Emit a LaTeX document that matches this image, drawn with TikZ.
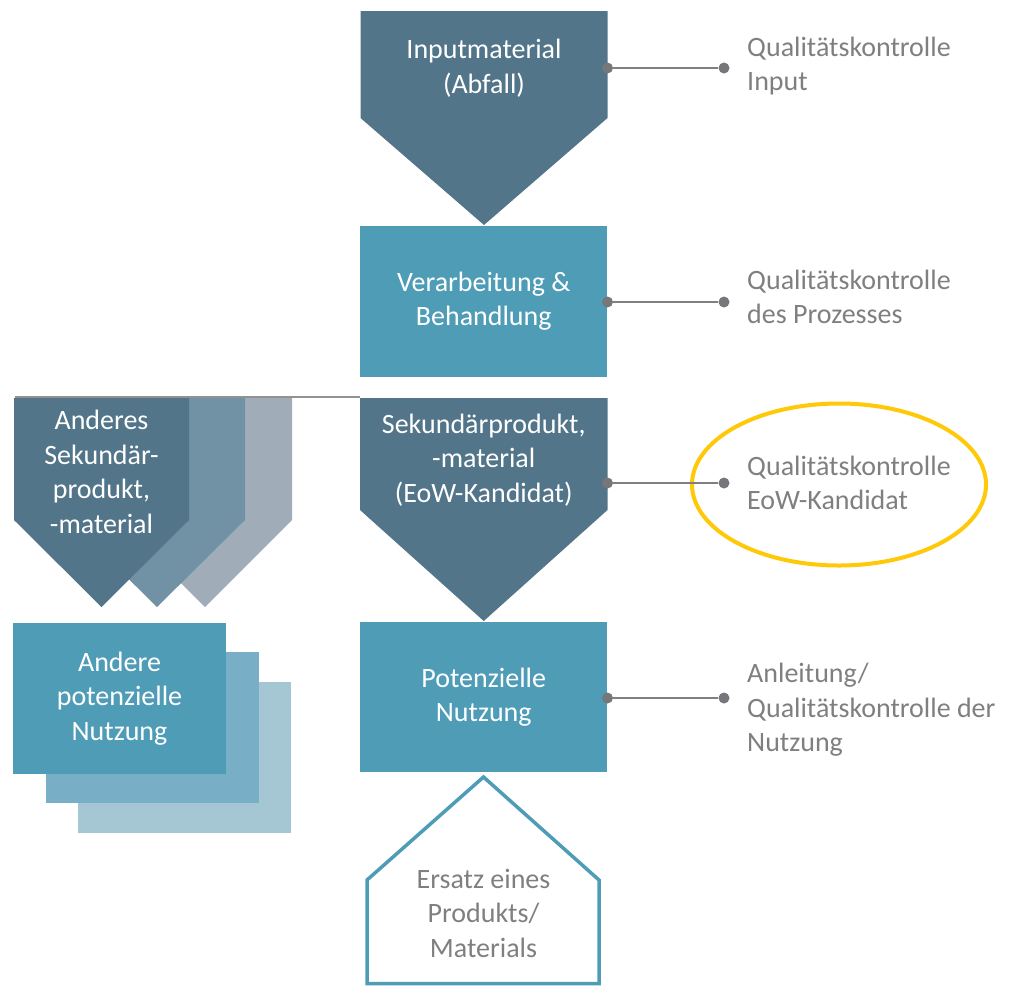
\documentclass[tikz,border=0pt]{standalone}
\usepackage{fontspec}
\setmainfont{Carlito}
\usetikzlibrary{positioning,calc}
\definecolor{eowSlate}{HTML}{527589}
\definecolor{eowSlateMid}{HTML}{7191A4}
\definecolor{eowSlateLight}{HTML}{A0ADB9}
\definecolor{eowTeal}{HTML}{4F9CB7}
\definecolor{eowTealMid}{HTML}{78AFC6}
\definecolor{eowTealLight}{HTML}{A5C7D3}
\definecolor{eowGrey}{HTML}{7F7F7F}
\definecolor{eowDot}{HTML}{76777B}
\definecolor{eowYellow}{HTML}{FFC90A}

\begin{document}
\begin{tikzpicture}[x=1pt,y=-1pt,font=\fontsize{28}{34.5}\selectfont]
    \tikzset{box/.style={minimum width=247pt,minimum height=151pt,inner sep=0pt,fill=eowTeal,text=white,align=center},
      sidebox/.style={minimum width=213pt,minimum height=151pt,inner sep=0pt},
      txt/.style={text=white,align=center,inner sep=0pt},
      note/.style={text=eowGrey,align=left,anchor=west,inner sep=0pt},
      dot/.style={circle,fill=eowDot,minimum size=11pt,inner sep=0pt},
      link/.style={eowGrey,line width=2.5pt}}
    \useasboundingbox (0,0) rectangle (1014,986);
    % top rule over the other products
    \coordinate (rl) at (15,397);
    \coordinate (rr) at (360,397);
    \draw[eowGrey!85,line width=1.5pt] (rl) -- (rr);
    % stack of other secondary products
    \fill[eowSlateLight] (118,398) -- (292,398) -- (292,520) -- (205,607) -- (118,520) -- cycle;
    \fill[eowSlateMid] (69,398) -- (245,398) -- (245,520) -- (157,607) -- (69,520) -- cycle;
    \fill[eowSlate] (14,398) -- (189,398) -- (189,520) -- (101.5,607) -- (14,520) -- cycle;
    \node[txt] (lsek) at (101.5,472) {Anderes\\ Sekundär-\\ produkt,\\ -material};
    % stack of other uses
    \node[sidebox,fill=eowTealLight] (luse3) at (184.5,757.5) {};
    \node[sidebox,fill=eowTealMid] (luse2) at (152.5,727.5) {};
    \node[sidebox,fill=eowTeal,text=white,align=center] (luse) at (119.5,698.5) {Andere\\ potenzielle\\ Nutzung};
    % main column
    \fill[eowSlate] (360.5,11) -- (607.5,11) -- (607.5,118) -- (484,225) -- (360.5,118) -- cycle;
    \node[txt] (inp) at (484,68) {Inputmaterial\\ (Abfall)};
    \node[box] (proc) at (483.75,301) {Verarbeitung \&\\ Behandlung};
    \fill[eowSlate] (360,398) -- (607.5,398) -- (607.5,510) -- (483.75,621) -- (360,510) -- cycle;
    \node[txt] (sek) at (483.75,460) {Sekundärprodukt,\\ -material\\ (EoW-Kandidat)};
    \node[box,minimum height=150pt] (use) at (483.75,697) {Potenzielle\\ Nutzung};
    \draw[eowTeal,line width=3.5pt] (367,983.5) -- (367,880) -- (483.5,777) -- (599,880) -- (599,983.5) -- cycle;
    \node[text=eowGrey,align=center,inner sep=0pt] (subst) at (483.5,913) {Ersatz eines\\ Produkts/\\ Materials};
    % quality checks
    \draw[eowYellow,line width=4pt] (839,484.5) ellipse [x radius=147,y radius=81];
    \node[dot] (d1) at (607.5,68) {};
    \node[dot] (e1) at (724,68) {};
    \node[dot] (d2) at (607.5,302) {};
    \node[dot] (e2) at (724,302) {};
    \node[dot] (d3) at (607.5,483) {};
    \node[dot] (e3) at (724,483) {};
    \node[dot] (d4) at (607.5,698) {};
    \node[dot] (e4) at (724,698) {};
    \draw[link] (d1) -- (e1);
    \draw[link] (d2) -- (e2);
    \draw[link] (d3) -- (e3);
    \draw[link] (d4) -- (e4);
    \node[note] (n1) at (747,66) {Qualitätskontrolle\\ Input};
    \node[note] (n2) at (747,297) {Qualitätskontrolle\\ des Prozesses};
    \node[note] (n3) at (747,483) {Qualitätskontrolle\\ EoW-Kandidat};
    \node[note] (n4) at (747,710) {Anleitung/\\ Qualitätskontrolle der\\ Nutzung};
  \end{tikzpicture}
\end{document}
